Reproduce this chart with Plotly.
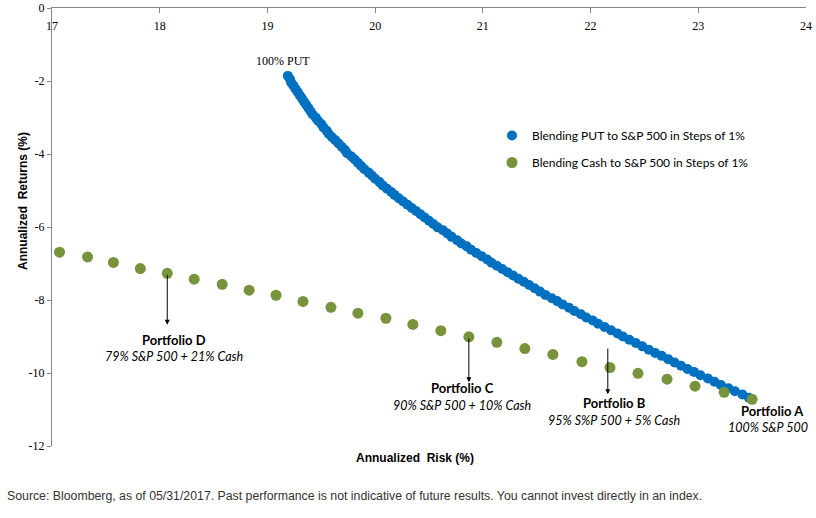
import plotly.graph_objects as go

# Blending PUT to S&P 500 (0%..100% S&P in steps of 1%)
put_risk = [19.19, 19.21, 19.22, 19.24, 19.26, 19.28, 19.30, 19.32, 19.34, 19.36,
            19.38, 19.40, 19.42, 19.45, 19.47, 19.50, 19.52, 19.55, 19.57, 19.60,
            19.63, 19.66, 19.69, 19.72, 19.74, 19.78, 19.81, 19.84, 19.87, 19.90,
            19.94, 19.97, 20.00, 20.04, 20.07, 20.11, 20.15, 20.18, 20.22, 20.26,
            20.30, 20.34, 20.38, 20.42, 20.46, 20.50, 20.54, 20.58, 20.63, 20.67,
            20.71, 20.76, 20.80, 20.85, 20.89, 20.94, 20.99, 21.04, 21.08, 21.13,
            21.18, 21.23, 21.28, 21.33, 21.38, 21.43, 21.48, 21.53, 21.58, 21.64,
            21.69, 21.74, 21.80, 21.85, 21.91, 21.96, 22.02, 22.07, 22.13, 22.19,
            22.25, 22.30, 22.36, 22.42, 22.48, 22.54, 22.60, 22.66, 22.72, 22.78,
            22.84, 22.90, 22.96, 23.02, 23.09, 23.15, 23.21, 23.28, 23.34, 23.41,
            23.47]
put_ret = [-1.86, -1.95, -2.04, -2.12, -2.21, -2.30, -2.39, -2.48, -2.57, -2.65,
           -2.74, -2.83, -2.92, -3.01, -3.09, -3.18, -3.27, -3.36, -3.45, -3.54,
           -3.62, -3.71, -3.80, -3.89, -3.98, -4.07, -4.15, -4.24, -4.33, -4.42,
           -4.51, -4.59, -4.68, -4.77, -4.86, -4.95, -5.04, -5.12, -5.21, -5.30,
           -5.39, -5.48, -5.56, -5.65, -5.74, -5.83, -5.92, -6.01, -6.09, -6.18,
           -6.27, -6.36, -6.45, -6.53, -6.62, -6.71, -6.80, -6.89, -6.98, -7.06,
           -7.15, -7.24, -7.33, -7.42, -7.50, -7.59, -7.68, -7.77, -7.86, -7.95,
           -8.03, -8.12, -8.21, -8.30, -8.39, -8.48, -8.56, -8.65, -8.74, -8.83,
           -8.92, -9.00, -9.09, -9.18, -9.27, -9.36, -9.45, -9.53, -9.62, -9.71,
           -9.80, -9.89, -9.97, -10.06, -10.15, -10.24, -10.33, -10.42, -10.50, -10.59,
           -10.68]

# Blending Cash to S&P 500 (25% cash .. 0% cash)
cash_pct = [25, 24, 23, 22, 21, 20, 19, 18, 17, 16, 15, 14, 13, 12, 11, 10, 9, 8, 7, 6, 5, 4, 3, 2, 1, 0]
cash_risk = [17.07, 17.33, 17.57, 17.82, 18.07, 18.32, 18.58, 18.83, 19.08, 19.33,
             19.59, 19.84, 20.10, 20.35, 20.61, 20.87, 21.13, 21.39, 21.65, 21.92,
             22.18, 22.44, 22.71, 22.97, 23.24, 23.50]
cash_ret = [-6.69, -6.82, -6.97, -7.14, -7.27, -7.43, -7.57, -7.73, -7.87, -8.04,
            -8.20, -8.36, -8.50, -8.67, -8.84, -9.01, -9.16, -9.33, -9.49, -9.69,
            -9.85, -10.01, -10.17, -10.36, -10.53, -10.72]

x_ticks = [17, 18, 19, 20, 21, 22, 23, 24]
y_ticks = [0, -2, -4, -6, -8, -10, -12]

BLUE = "#0070C0"
GREEN = "#77933C"
SERIF = "Liberation Serif, Times New Roman, serif"
CAL = "Lato, Carlito, Calibri, sans-serif"
NARROW = "Liberation Sans Narrow, Arial Narrow, Liberation Sans, Arial, sans-serif"

fig = go.Figure()
fig.add_trace(go.Scatter(x=put_risk, y=put_ret, mode="markers",
                         marker=dict(color=BLUE, size=10, line=dict(width=0)),
                         name="Blending PUT to S&P 500 in Steps of 1%", legendgroup="a"))
fig.add_trace(go.Scatter(x=cash_risk, y=cash_ret, mode="markers",
                         marker=dict(color=GREEN, size=11, line=dict(width=0)),
                         name="Blending Cash to S&P 500 in Steps of 1%", legendgroup="b"))
# empty trace so the label-only overlay axis (xaxis2) is drawn
fig.add_trace(go.Scatter(x=[], y=[], xaxis="x2", yaxis="y", showlegend=False,
                         hoverinfo="skip", mode="markers"))

ann = []
# 100% PUT label
ann.append(dict(x=put_risk[0] - 0.05, y=put_ret[0] + 0.42, text="100% PUT", showarrow=False,
                font=dict(family=SERIF, size=12, color="black")))

portfolios = [
    ("D", cash_pct.index(21), "79% S&P 500 + 21% Cash", 18.13, -9.10, -9.56, True, 0.0, -8.68),
    ("C", cash_pct.index(10), "90% S&P 500 + 10% Cash", 20.81, -10.41, -10.90, True, 0.0, -10.25),
    ("B", cash_pct.index(5), "95% S%P 500 + 5% Cash", 22.22, -10.82, -11.29, True, 0.56, -10.58),
    ("A", cash_pct.index(0), "100% S&P 500", 23.69, -11.04, -11.48, False, 0.0, 0.0),
]
for name, idx, sub, lx, ly1, ly2, arrow, tail_up, head_y in portfolios:
    ann.append(dict(x=lx, y=ly1, text="<b>Portfolio %s</b>" % name, showarrow=False,
                    font=dict(family=CAL, size=13, color="black")))
    ann.append(dict(x=lx - (0.04 if name == "A" else 0), y=ly2, text="<i>%s</i>" % sub, showarrow=False,
                    font=dict(family=CAL, size=12.5, color="black")))
    if arrow:
        ax = cash_risk[idx] - (0.02 if name == "B" else 0)
        ann.append(dict(x=ax, y=head_y, ax=ax, ay=cash_ret[idx] + tail_up,
                        xref="x", yref="y", axref="x", ayref="y", text="",
                        showarrow=True, arrowhead=2, arrowsize=1, arrowwidth=1,
                        arrowcolor="black", standoff=0, startstandoff=0))

# axis titles and source
ann.append(dict(xref="paper", yref="paper", x=(415 - 52) / 754, y=(446 - 467) / 438,
                text="<b>Annualized  Risk (%)</b>", showarrow=False,
                font=dict(family=NARROW, size=12, color="black")))
ann.append(dict(xref="paper", yref="paper", x=(14 - 52) / 754, y=(446 - 201) / 438,
                text="<b>Annualized  Returns (%)</b>", textangle=-90, showarrow=False,
                font=dict(family=NARROW, size=12, color="black")))
ann.append(dict(xref="paper", yref="paper", x=(5 - 52) / 754, y=(446 - 496) / 438,
                xanchor="left", yanchor="middle",
                text="Source: Bloomberg, as of 05/31/2017. Past performance is not indicative of future results. You cannot invest directly in an index.",
                showarrow=False, font=dict(family=NARROW, size=12.3, color="#333333")))

fig.update_layout(
    width=816, height=518,
    margin=dict(l=52, r=10, t=8, b=72, autoexpand=False),
    plot_bgcolor="white", paper_bgcolor="white",
    showlegend=True,
    legend=dict(x=(492 - 52) / 754, y=(446 - 121) / 438, xanchor="left", yanchor="top",
                font=dict(family=CAL, size=12, color="black"), tracegroupgap=8,
                bgcolor="rgba(0,0,0,0)"),
    annotations=ann,
    xaxis=dict(range=[17, 24], side="top", tickvals=x_ticks,
               showgrid=False, zeroline=False, showline=True, linecolor="#868686", linewidth=1,
               ticks="inside", ticklen=5, tickcolor="#868686", showticklabels=False,
               automargin=False),
    # tick labels of the top axis, drawn just below the axis line
    xaxis2=dict(range=[17, 24], overlaying="x", side="bottom", anchor="free", position=1,
                tickvals=x_ticks, ticktext=[str(v) for v in x_ticks],
                showgrid=False, zeroline=False, showline=False,
                ticks="outside", ticklen=7, tickcolor="rgba(0,0,0,0)",
                ticklabeloverflow="allow", automargin=False,
                tickfont=dict(family=SERIF, size=12, color="black")),
    yaxis=dict(range=[-12, 0], tickvals=y_ticks, ticktext=[str(v) for v in y_ticks],
               showgrid=False, zeroline=False, showline=True, linecolor="#868686", linewidth=1,
               ticks="outside", ticklen=4, tickcolor="#868686", ticklabeloverflow="allow",
               automargin=False,
               tickfont=dict(family=SERIF, size=12, color="black")),
)

fig.write_html("out.html")
